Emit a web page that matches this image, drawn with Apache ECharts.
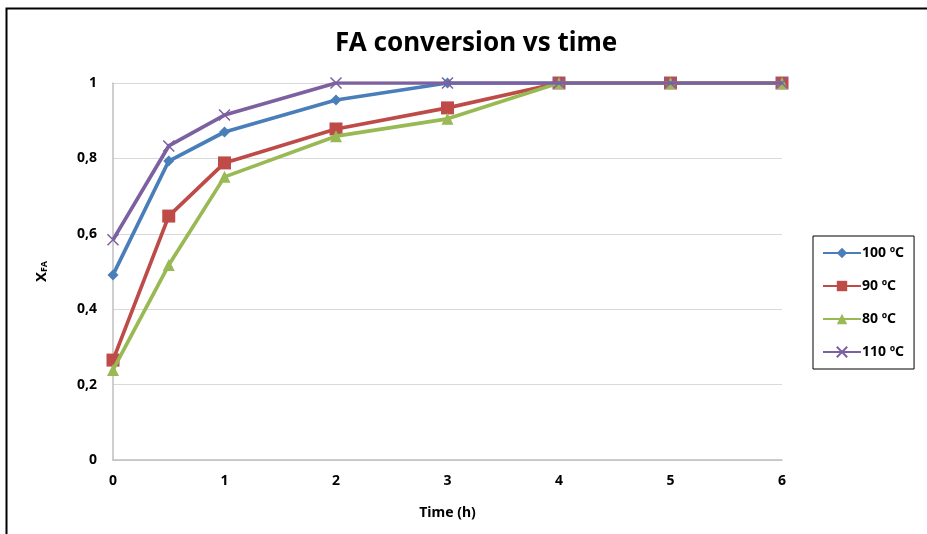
<!DOCTYPE html>
<html>
<head>
<meta charset="utf-8">
<script src="https://cdn.jsdelivr.net/npm/echarts@6/dist/echarts.min.js"></script>
<style>
html,body{margin:0;padding:0;background:#fff;}
#c{width:927px;height:534px;}
</style>
</head>
<body>
<div id="c"></div>
<script>
const times = [0, 0.5, 1, 2, 3, 4, 5, 6];
const s100 = [0.491, 0.793, 0.870, 0.955, 1.0, 1.0, 1.0, 1.0];
const s90  = [0.265, 0.647, 0.788, 0.878, 0.934, 1.0, 1.0, 1.0];
const s80  = [0.239, 0.517, 0.751, 0.859, 0.905, 1.0, 1.0, 1.0];
const s110 = [0.584, 0.833, 0.915, 1.0, 1.0, 1.0, 1.0, 1.0];
const seriesNames = ['100 ºC', '90 ºC', '80 ºC', '110 ºC'];
const xTicks = [0, 1, 2, 3, 4, 5, 6];
const yTicks = [0, 0.2, 0.4, 0.6, 0.8, 1];

const FONT = 'Noto Sans';
const crossPath = 'path://M0,0L10,10M10,0L0,10';

function pts(vals){ return times.map((t,i)=>[t, vals[i]]); }

const colors = ['#4A7EBB', '#BE4B48', '#98B954', '#7D60A0'];
const symbols = ['diamond', 'rect', 'triangle', crossPath];
const sizes = [11, 13, 12, 11];
const datas = [s100, s90, s80, s110];

const series = datas.map((d, i) => ({
  name: seriesNames[i],
  type: 'line',
  data: pts(d),
  symbol: symbols[i],
  symbolSize: sizes[i],
  showAllSymbol: true,
  lineStyle: {width: 3.7, color: colors[i]},
  itemStyle: i === 3 ? {color: colors[i], borderColor: colors[i], borderWidth: 1.5} : {color: colors[i], borderWidth: 0},
  emphasis: {disabled: true},
  z: 2 + i
}));

const chart = echarts.init(document.getElementById('c'), null, {renderer: 'canvas'});
chart.setOption({
  animation: false,
  backgroundColor: '#fff',
  title: {
    text: 'FA conversion vs time',
    left: 330,
    top: 26,
    textStyle: {fontFamily: FONT, fontWeight: 'bold', fontSize: 26, color: '#000'}
  },
  grid: {left: 113, right: 145, top: 83, bottom: 74, containLabel: false},
  legend: {
    orient: 'vertical',
    left: 813, top: 236,
    padding: [10, 10, 10, 9],
    itemGap: 19,
    itemWidth: 38, itemHeight: 13,
    borderColor: '#000', borderWidth: 1,
    textStyle: {fontFamily: FONT, fontWeight: 'bold', fontSize: 14, color: '#000', padding: [0,0,0,-4]},
    data: seriesNames
  },
  xAxis: {
    type: 'value', min: 0, max: 6, interval: 1,
    name: 'Time (h)', nameLocation: 'middle', nameGap: 46,
    nameTextStyle: {fontFamily: FONT, fontWeight: 'bold', fontSize: 14, color: '#000'},
    axisLine: {show: true, lineStyle: {color: '#BFBFBF', width: 1.5}},
    axisTick: {show: false},
    splitLine: {show: false},
    axisLabel: {fontFamily: FONT, fontWeight: 'bold', fontSize: 14, color: '#000', margin: 14}
  },
  yAxis: {
    type: 'value', min: 0, max: 1, interval: 0.2,
    name: '{x|X}{s|FA}', nameLocation: 'middle', nameGap: 64, nameRotate: 90,
    nameTextStyle: {
      rich: {
        x: {fontFamily: FONT, fontWeight: 'bold', fontSize: 15, color: '#000'},
        s: {fontFamily: FONT, fontWeight: 'bold', fontSize: 9, color: '#000', verticalAlign: 'bottom', padding: [6,0,0,0]}
      }
    },
    axisLine: {show: true, lineStyle: {color: '#BFBFBF', width: 1.5}},
    axisTick: {show: false},
    splitLine: {show: true, lineStyle: {color: '#D9D9D9', width: 1.2}},
    axisLabel: {
      fontFamily: FONT, fontWeight: 'bold', fontSize: 14, color: '#000', margin: 16,
      formatter: v => String(Math.round(v*10)/10).replace('.', ',')
    }
  },
  graphic: [{
    type: 'polyline',
    shape: {points: [[6.5, 540], [6.5, 8.5], [930, 8.5]]},
    style: {stroke: '#000', lineWidth: 2, fill: null},
    silent: true
  }],
  series: series
});
</script>
</body>
</html>
